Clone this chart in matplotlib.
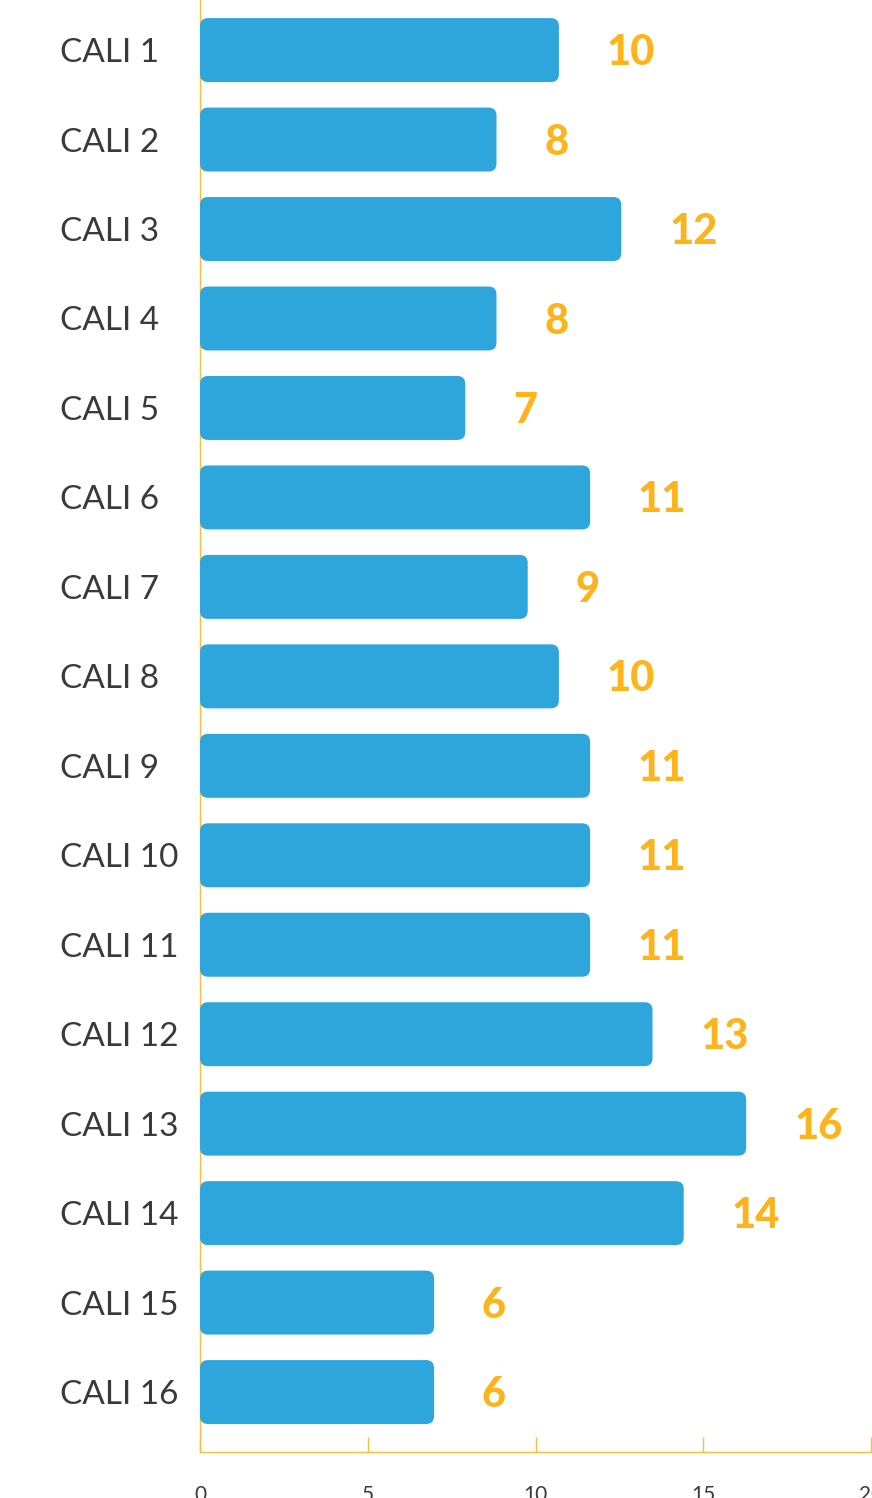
import matplotlib
matplotlib.use('Agg')
import matplotlib.pyplot as plt
from matplotlib.patches import FancyBboxPatch

labels = ['CALI 1', 'CALI 2', 'CALI 3', 'CALI 4', 'CALI 5', 'CALI 6', 'CALI 7', 'CALI 8',
          'CALI 9', 'CALI 10', 'CALI 11', 'CALI 12', 'CALI 13', 'CALI 14', 'CALI 15', 'CALI 16']
values = [10, 8, 12, 8, 7, 11, 9, 10, 11, 11, 11, 13, 16, 14, 6, 6]
xticks = [0, 5, 10, 15, 20]

BLUE = '#2EA6DC'
ORANGE = '#FDB31B'
AXIS = '#F8BE3C'
TEXT = '#3A3A3A'
BAR_ORIGIN = -1.5   # bars start a bit before zero in the artwork

W, H = 872, 1498
fig = plt.figure(figsize=(W / 100, H / 100), dpi=100)
ax = fig.add_axes([200 / W, 46 / H, 671 / W, 1452 / H])
ax2 = ax.twiny()

ypos = list(range(len(labels)))
ax.set_ylim(len(labels) - 1 + 0.67, -0.56)
ax.set_xlim(0, 20)
ax2.set_xlim(BAR_ORIGIN, BAR_ORIGIN + 21.5)

bars = ax2.barh(ypos, [v - BAR_ORIGIN for v in values], left=BAR_ORIGIN, height=0.715,
                color='none', edgecolor='none')

# rounded corners: convert the pixel radius into data units of each axis
fig.canvas.draw()
px_x = ax2.transData.transform((1, 0))[0] - ax2.transData.transform((0, 0))[0]
px_y = abs(ax2.transData.transform((0, 1))[1] - ax2.transData.transform((0, 0))[1])
r = 8 / px_x
for b in bars:
    p = FancyBboxPatch((b.get_x(), b.get_y()), b.get_width(), b.get_height(),
                       boxstyle='round,pad=0,rounding_size=%f' % r,
                       mutation_aspect=px_x / px_y,
                       facecolor=BLUE, edgecolor='none', transform=ax2.transData)
    ax2.add_patch(p)

for b, v in zip(bars, values):
    ax2.annotate(str(v), (b.get_x() + b.get_width(), b.get_y() + b.get_height() / 2),
                 xytext=(34.5, -2.2), textcoords='offset points', ha='left', va='center',
                 fontsize=30, fontweight='black', family=['Lato', 'DejaVu Sans'], color=ORANGE)

ax2.axis('off')

ax.set_yticks(ypos)
ax.set_yticklabels(labels, fontsize=24, family=['Lato', 'DejaVu Sans'], color=TEXT)
for t in ax.get_yticklabels():
    t.set_horizontalalignment('left')
ax.tick_params(axis='y', length=0, pad=100.8)

ax.set_xticks(xticks)
ax.set_xticklabels([str(t) for t in xticks], fontsize=15, family=['Lato', 'DejaVu Sans'], color=TEXT)
ax.tick_params(axis='x', direction='in', length=11, width=1, color=AXIS, pad=24)

for s in ['top', 'right']:
    ax.spines[s].set_visible(False)
for s in ['left', 'bottom']:
    ax.spines[s].set_color(AXIS)
    ax.spines[s].set_linewidth(1)

fig.savefig('out.png', dpi=100)
